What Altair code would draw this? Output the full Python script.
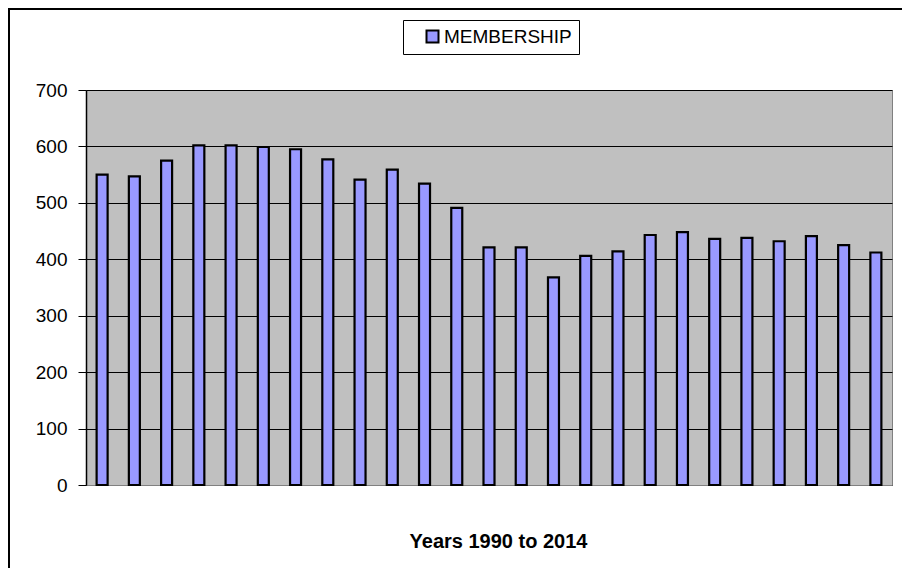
import altair as alt
import pandas as pd

years = list(range(1990, 2015))
membership = [550, 547, 575, 602, 602, 599, 595, 577, 541, 559, 534, 491,
              421, 421, 368, 406, 414, 443, 448, 436, 438, 432, 441, 425, 412]
series = ["MEMBERSHIP"] * len(years)
y_ticks = [0, 100, 200, 300, 400, 500, 600, 700]

df = pd.DataFrame({"year": years, "value": membership, "series": series})

FONT = "Liberation Sans"

bars = alt.Chart(df).mark_bar(
    size=11, stroke="black", strokeWidth=2.2
).encode(
    x=alt.X("year:O", title="Years 1990 to 2014",
            axis=alt.Axis(labels=False, ticks=False, domain=True,
                          domainColor="#808080", domainWidth=1,
                          titleFont=FONT, titleFontSize=20,
                          titleFontWeight="bold", titleColor="black",
                          titlePadding=46, titleX=412)),
    y=alt.Y("value:Q", title=None,
            scale=alt.Scale(domain=[0, 700], nice=False),
            axis=alt.Axis(values=y_ticks, grid=True, gridColor="black",
                          gridWidth=1, gridOpacity=1,
                          domainColor="black", domainWidth=1.5,
                          tickColor="black", tickSize=8, tickWidth=1,
                          labelFont=FONT, labelFontSize=19,
                          labelColor="black", labelPadding=11)),
    color=alt.Color("series:N", scale=alt.Scale(range=["#9999FF"]),
                    legend=alt.Legend(title=None, orient="none",
                                      legendX=317, legendY=-70,
                                      direction="horizontal",
                                      strokeColor="black", fillColor="white",
                                      padding=7, symbolOffset=13,
                                      symbolType="square", symbolSize=144,
                                      symbolStrokeColor="black",
                                      symbolStrokeWidth=2,
                                      labelFont=FONT, labelFontSize=19,
                                      labelColor="black", labelOffset=2,
                                      cornerRadius=0)),
)

border_left = alt.Chart(df).mark_rule(color="black", strokeWidth=1.5).encode(
    x=alt.value(-77), y=alt.value(-82), y2=alt.value(493)
)
border_top = alt.Chart(df).mark_rule(color="black", strokeWidth=1.5).encode(
    x=alt.value(-78), x2=alt.value(816), y=alt.value(-81)
)

chart = alt.layer(bars, border_left, border_top).properties(
    width=806, height=395,
    autosize=alt.AutoSizeParams(type="none"),
    padding={"left": 78, "top": 82, "right": 10, "bottom": 83},
    background="white",
).configure_view(
    fill="#C0C0C0", stroke="#808080", strokeWidth=1
).configure_scale(
    bandPaddingInner=0.6, bandPaddingOuter=0.3
)

chart.save("out.html", embed_options={"renderer": "svg", "actions": False})
